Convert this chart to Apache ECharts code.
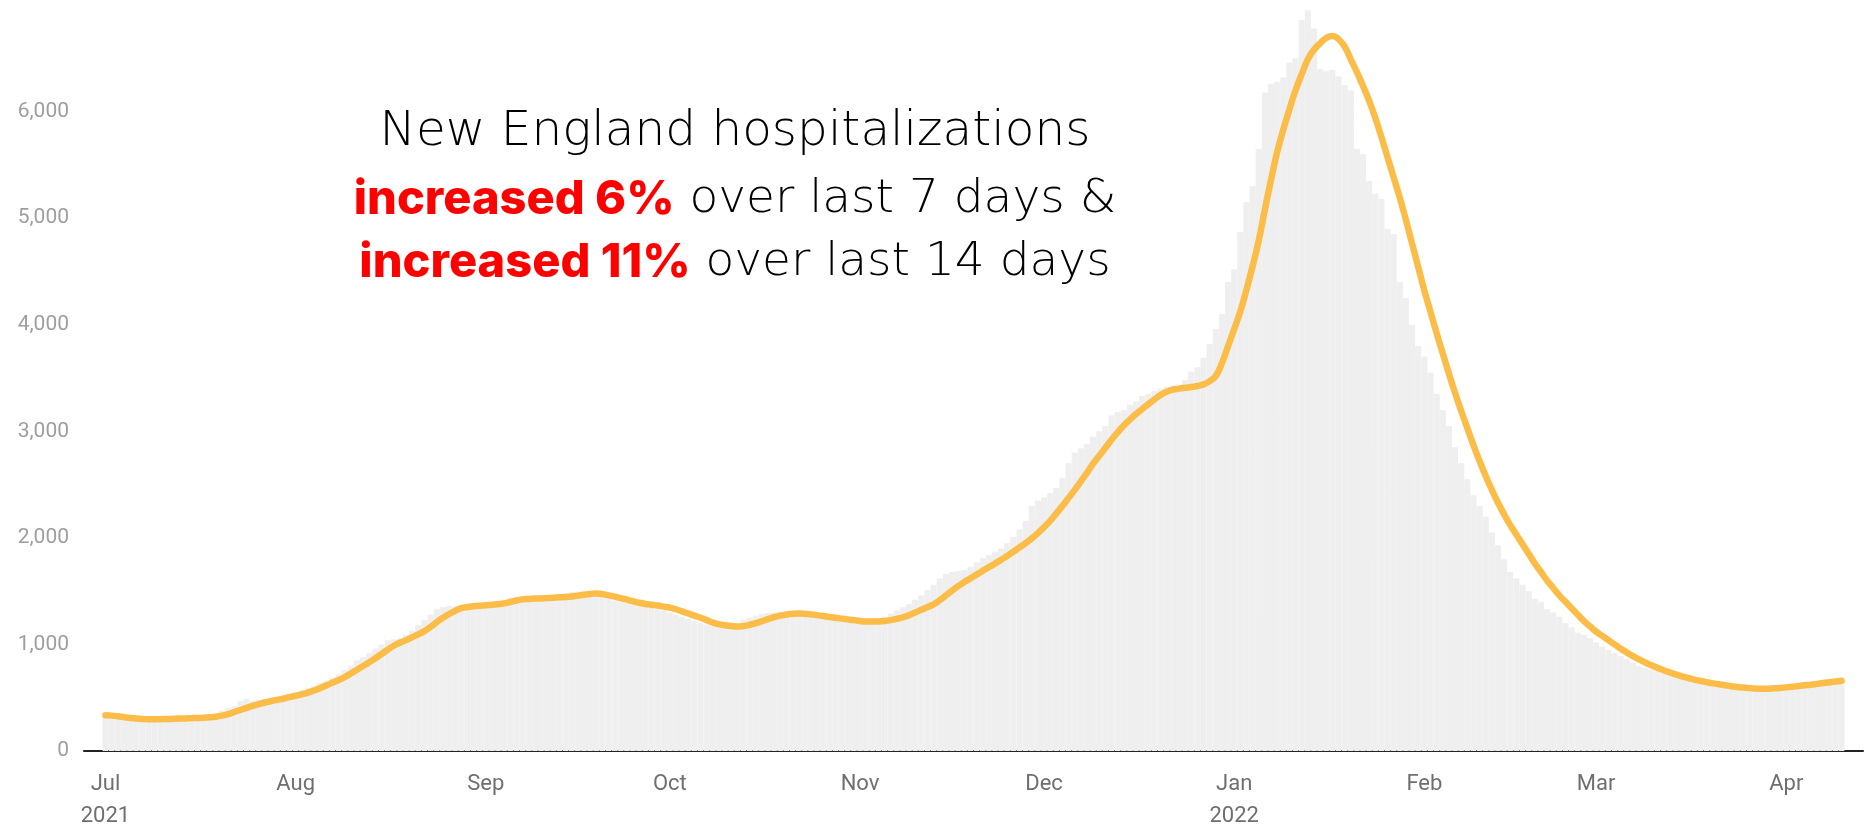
<!DOCTYPE html>
<html>
<head>
<meta charset="utf-8">
<script src="https://cdn.jsdelivr.net/npm/echarts@6/dist/echarts.min.js"></script>
<style>
html,body{margin:0;padding:0;background:#fff;}
#chart{width:1864px;height:832px;}
</style>
</head>
<body>
<div id="chart"></div>
<script>
// First day of the daily series
const startDate = '2021-07-01';
// Daily hospitalizations (grey bars), Jul 1 2021 .. Apr 10 2022
const dailyValues = [
340,330,320,310,300,295,300,298,302,296,
305,300,310,312,315,318,325,335,350,380,
400,420,470,490,470,480,490,500,510,520,
540,555,570,590,610,640,660,690,720,760,
800,850,880,920,960,1000,1040,1050,1060,1090,
1130,1180,1230,1280,1330,1350,1360,1360,1370,1375,
1380,1385,1390,1395,1410,1420,1440,1445,1440,1445,
1450,1455,1450,1460,1470,1480,1490,1495,1500,1490,
1470,1450,1430,1410,1400,1390,1375,1360,1350,1345,
1335,1320,1300,1280,1260,1240,1220,1200,1185,1170,
1165,1170,1185,1200,1230,1250,1270,1285,1295,1300,
1305,1300,1290,1280,1270,1265,1255,1245,1240,1230,
1225,1215,1210,1205,1210,1220,1240,1260,1290,1320,
1350,1380,1420,1460,1510,1560,1620,1660,1680,1690,
1700,1730,1770,1810,1840,1870,1900,1950,2010,2080,
2160,2300,2350,2380,2420,2470,2560,2700,2800,2840,
2880,2950,3000,3050,3150,3180,3200,3250,3280,3330,
3350,3380,3400,3420,3430,3420,3480,3560,3600,3690,
3820,3960,4100,4400,4520,4870,5150,5300,5650,6180,
6260,6280,6320,6460,6500,6860,6950,6780,6400,6380,
6390,6330,6250,6200,5650,5600,5350,5230,5180,4900,
4850,4400,4250,4000,3800,3700,3550,3350,3200,3050,
2850,2700,2550,2400,2300,2200,2050,1930,1800,1680,
1620,1560,1500,1430,1400,1330,1300,1260,1200,1160,
1110,1090,1060,1020,980,950,920,890,860,830,
800,780,765,745,730,715,700,690,675,662,
650,640,630,620,610,600,592,585,580,575,
570,560,565,575,580,590,595,605,612,620,
628,635,640,650
];
// 7-day average (orange line)
const avgValues = [
335,332,326,318,310,304,300,298,298,299,
300,302,304,306,308,310,312,316,322,332,
346,366,385,405,423,440,455,468,480,492,
506,518,532,548,568,590,615,640,666,693,
728,762,797,832,870,910,950,988,1015,1040,
1068,1095,1125,1165,1210,1250,1285,1315,1340,1352,
1358,1362,1367,1372,1378,1385,1398,1412,1423,1427,
1430,1432,1435,1438,1442,1445,1450,1458,1466,1474,
1479,1472,1460,1448,1435,1420,1405,1391,1380,1372,
1365,1355,1345,1330,1310,1290,1270,1250,1228,1205,
1190,1180,1172,1168,1172,1183,1199,1218,1238,1256,
1270,1280,1287,1290,1288,1282,1275,1267,1258,1250,
1242,1235,1228,1220,1215,1214,1216,1220,1228,1240,
1255,1275,1300,1325,1350,1376,1415,1460,1505,1547,
1585,1620,1655,1690,1725,1758,1795,1830,1870,1910,
1951,1995,2045,2100,2160,2230,2300,2375,2450,2530,
2610,2696,2770,2845,2920,2990,3054,3110,3162,3210,
3255,3300,3340,3370,3390,3400,3408,3415,3425,3440,
3470,3520,3640,3800,3960,4126,4330,4550,4790,5080,
5360,5620,5830,6020,6200,6350,6490,6580,6640,6690,
6710,6680,6610,6490,6370,6240,6100,5940,5760,5570,
5380,5190,4980,4760,4540,4320,4120,3920,3730,3540,
3360,3190,3030,2870,2720,2580,2450,2330,2220,2120,
2030,1940,1850,1760,1680,1600,1530,1460,1400,1340,
1280,1220,1170,1120,1080,1040,1000,960,925,890,
860,830,805,780,758,738,718,700,685,670,
658,646,635,626,617,608,600,595,590,586,
584,585,588,592,597,603,610,616,622,630,
638,645,652,660
];
const monthNames = ['Jan','Feb','Mar','Apr','May','Jun','Jul','Aug','Sep','Oct','Nov','Dec'];
const yTicks = [0,1000,2000,3000,4000,5000,6000];
const titleLines = [
  [['h','New England hospitalizations']],
  [['r','increased 6%'],['n',' over last 7 days &']],
  [['r','increased 11%'],['n',' over last 14 days']]
];

// empty days drawn on each side of the data (the axis line runs past the bars)
const padBefore = 3, padAfter = 3;
const categories = [];
const d0 = new Date(startDate + 'T00:00:00Z');
for (let i = -padBefore; i < dailyValues.length + padAfter; i++) {
  const d = new Date(d0.getTime() + i * 86400000);
  categories.push(d.toISOString().slice(0, 10));
}
const pad = (arr) => Array(padBefore).fill(null).concat(arr, Array(padAfter).fill(null));

const chart = echarts.init(document.getElementById('chart'), null, {renderer: 'canvas'});

const FS = 47;
const rich = {
  h: {fontFamily: 'DejaVu Sans', fontWeight: 200, fontSize: 48.5, fill: '#000000', color: '#000000', lineHeight: 66},
  n: {fontFamily: 'DejaVu Sans', fontWeight: 200, fontSize: FS, fill: '#000000', color: '#000000', lineHeight: 66},
  r: {fontFamily: 'Inter', fontWeight: 800, fontSize: FS, fill: '#ff0000', color: '#ff0000', lineHeight: 66}
};
const baselines = [147, 215, 278];
const graphics = titleLines.map((line, i) => ({
  type: 'text',
  x: 735,
  y: baselines[i] - Math.round(FS * 0.32),
  style: {
    text: line.map(([k, t]) => '{' + k + '|' + t + '}').join(''),
    rich: rich,
    align: 'center',
    verticalAlign: 'middle'
  },
  z: 100
}));

chart.setOption({
  animation: false,
  backgroundColor: '#ffffff',
  grid: {left: 84, right: 1, top: 5, bottom: 76, containLabel: false},
  xAxis: {
    type: 'category',
    data: categories,
    boundaryGap: true,
    axisLine: {show: true, lineStyle: {color: '#222', width: 2}},
    axisTick: {show: false},
    splitLine: {show: false},
    axisLabel: {
      interval: (idx, val) => val.slice(8, 10) === '01',
      formatter: (val) => {
        const m = parseInt(val.slice(5, 7), 10) - 1;
        const y = val.slice(0, 4);
        let s = monthNames[m];
        if (m === 0 || val === categories[padBefore]) s += '\n' + y;
        return s;
      },
      color: '#6f6f6f',
      fontFamily: 'Roboto',
      fontSize: 22,
      lineHeight: 32,
      margin: 17
    }
  },
  yAxis: {
    type: 'value',
    min: 0,
    max: 7000,
    interval: 1000,
    axisLine: {show: false},
    axisTick: {show: false},
    splitLine: {show: false},
    axisLabel: {
      formatter: (v) => yTicks.indexOf(v) >= 0 ? v.toLocaleString('en-US') : '',
      color: '#9e9e9e',
      fontFamily: 'Roboto',
      fontSize: 21,
      margin: 15
    }
  },
  series: [
    {
      type: 'bar',
      data: pad(dailyValues),
      barCategoryGap: '0%',
      barGap: '0%',
      itemStyle: {color: '#efefef', borderColor: '#efefef', borderWidth: 1},
      silent: true,
      z: 1
    },
    {
      type: 'line',
      data: pad(avgValues),
      smooth: true,
      showSymbol: false,
      lineStyle: {color: '#fcbd48', width: 6.5, cap: 'round', join: 'round'},
      silent: true,
      z: 3
    }
  ],
  graphic: graphics
});
</script>
</body>
</html>
